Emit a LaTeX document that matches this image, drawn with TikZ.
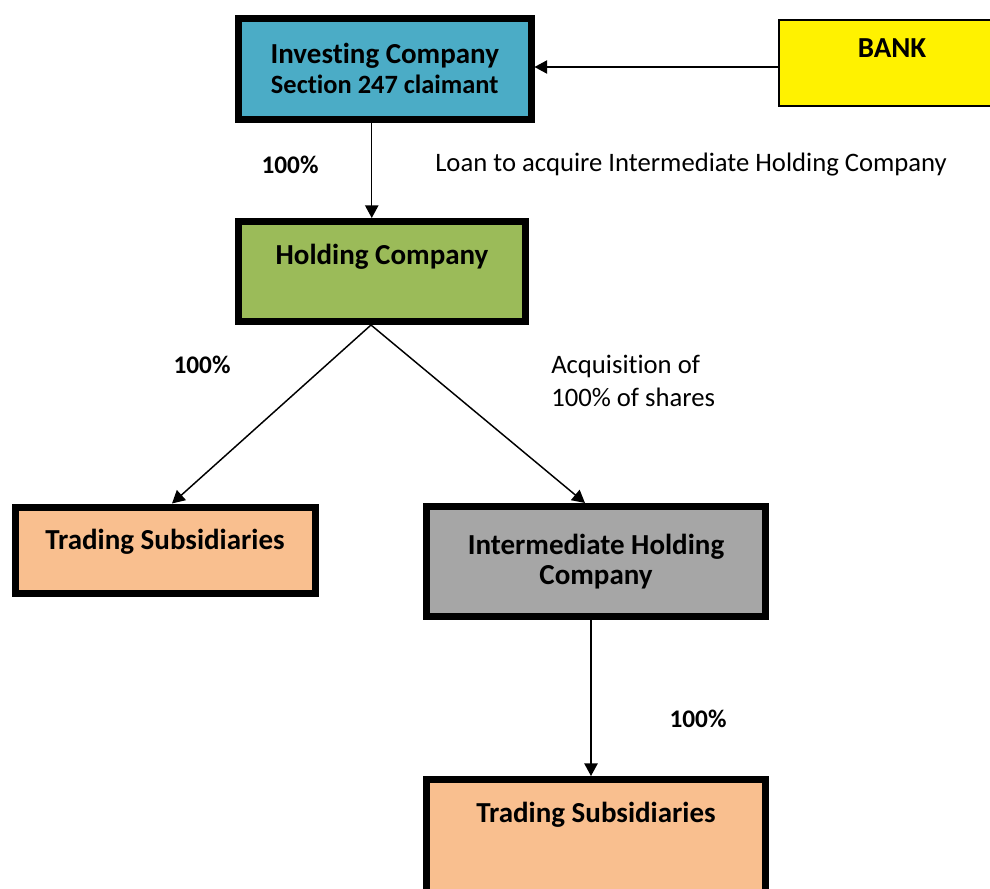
\documentclass[tikz,border=0pt]{standalone}
\usepackage{fontspec}
\setmainfont{Carlito}[RawFeature={-liga;-calt;-dlig;-clig}]
\usepackage{xcolor}
\usetikzlibrary{arrows.meta,positioning}

\definecolor{invblue}{HTML}{4BACC6}
\definecolor{holdgreen}{HTML}{9BBB59}
\definecolor{tradeorange}{HTML}{F9BF8F}
\definecolor{midgrey}{HTML}{A6A6A6}

\tikzset{
	box/.style={draw, line width=5.25pt, inner sep=0pt, align=center,
		font=\bfseries\fontsize{21.75}{22.5}\selectfont},
	thinbox/.style={box, line width=1.5pt},
	arr/.style={-{Triangle[length=9.5pt,width=10pt]}, line width=1.1pt},
	pct/.style={font=\bfseries\fontsize{19}{22}\selectfont, inner sep=0pt},
	note/.style={font=\fontsize{20}{24.75}\selectfont, align=left, inner sep=0pt}
}

\begin{document}
\begin{tikzpicture}[x=0.75pt,y=-0.75pt]
	\useasboundingbox (0,0) rectangle (990,889);

	% Boxes
	\node[box, fill=invblue, minimum width=219.4pt, minimum height=75.4pt] (inv) at (384.75,68.75)
		{Investing Company\\{\fontsize{19.8}{22.5}\selectfont Section 247 claimant}};
	\node[thinbox, fill=yellow, minimum width=169.5pt, text height=27.75pt, text depth=36.75pt] (bank) at (892,63) {BANK};
	\node[box, fill=holdgreen, minimum width=215.25pt, text height=31.9pt, text depth=43.1pt] (hold) at (382,271.5) {Holding Company};
	\node[box, fill=tradeorange, minimum width=225pt, text height=31.5pt, text depth=33pt] (trl) at (165,550) {Trading Subsidiaries};
	\node[box, fill=midgrey, minimum width=254.25pt, minimum height=82.5pt] (imh) at (596,561.5)
		{Intermediate Holding\\Company};
	\node[box, fill=tradeorange, minimum width=254.25pt, text height=31.9pt, text depth=75pt] (trb) at (596,850.8) {Trading Subsidiaries};

	% Arrows
	\draw[arr] ([yshift=-3pt]bank.west) -- ([yshift=-3pt]bank.west -| inv.east);
	\draw[arr] ([xshift=-9.75pt]inv.south) -- ([xshift=-9.75pt]inv.south |- hold.north);
	\draw[arr] ([xshift=-8.25pt]hold.south) -- ([xshift=5.25pt]trl.north);
	\draw[arr] ([xshift=-8.25pt]hold.south) -- ([xshift=-8.25pt]imh.north);
	\draw[arr] ([xshift=-3.75pt]imh.south) -- ([xshift=-3.75pt]imh.south |- trb.north);

	% Labels
	\node[pct] (pinv) at (290,165) {100\%};
	\node[note, anchor=west] (loan) at (435,165) {Loan to acquire Intermediate Holding Company};
	\node[pct] (phold) at (202,365) {100\%};
	\node[note, anchor=west] (acq) at (551,380.5) {Acquisition of\\100\% of shares};
	\node[pct] (pimh) at (698,719) {100\%};
\end{tikzpicture}
\end{document}
